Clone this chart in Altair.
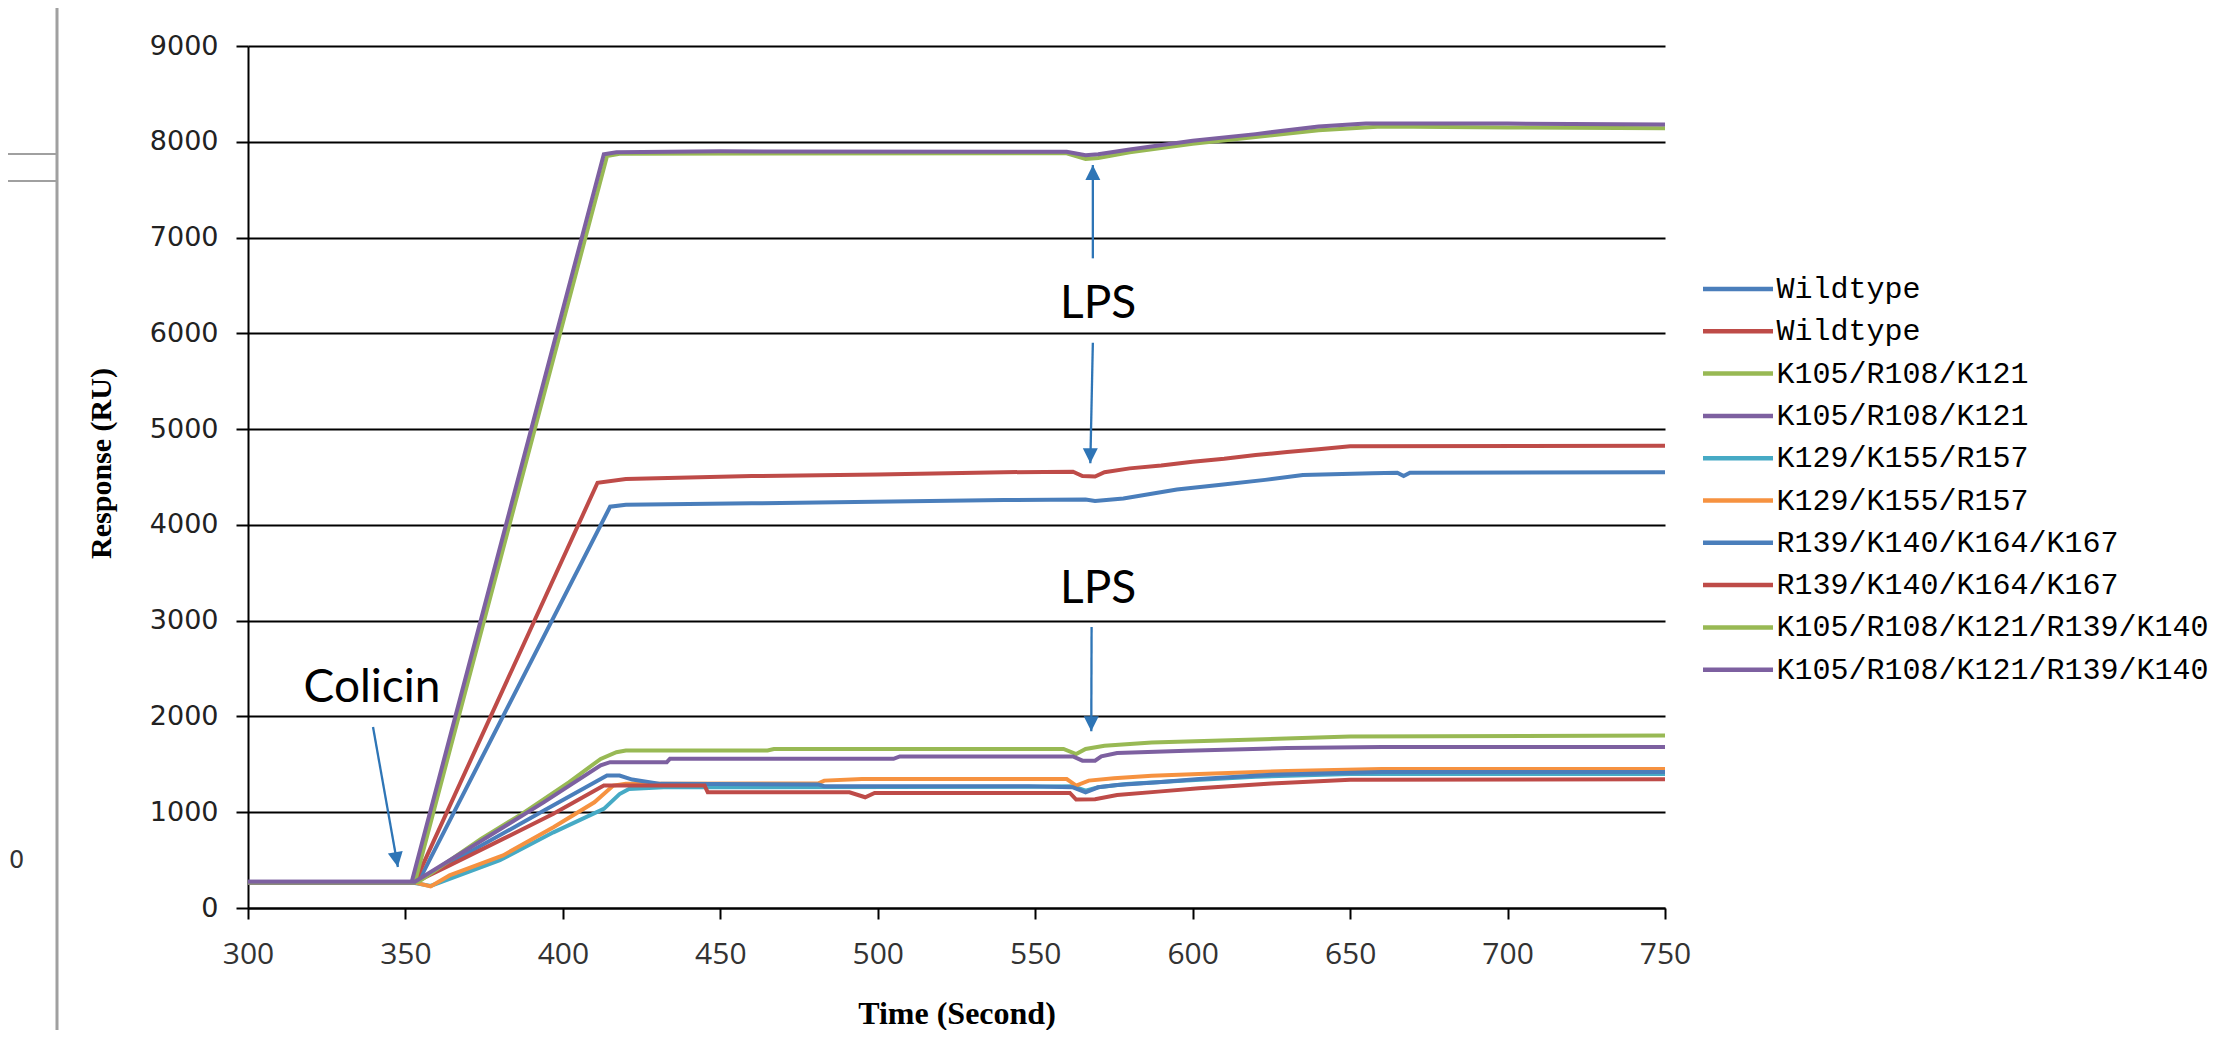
import altair as alt
import pandas as pd

# ---------------- data ----------------
SERIES = [
    "Wildtype|1", "Wildtype|2",
    "K105/R108/K121|1", "K105/R108/K121|2",
    "K129/K155/R157|1", "K129/K155/R157|2",
    "R139/K140/K164/K167|1", "R139/K140/K164/K167|2",
    "K105/R108/K121/R139/K140|1", "K105/R108/K121/R139/K140|2",
]
COLORS = ["#4A7EBB", "#BE4B48", "#98B954", "#7D60A0", "#46AAC5",
          "#F69240", "#4A7EBB", "#BE4B48", "#98B954", "#7D60A0"]

T_WT_A = [300, 354, 415, 420, 460, 540, 566, 569, 578, 595, 609, 623, 635, 657, 665, 667, 669, 750]
V_WT_A = [265, 265, 4190, 4210, 4225, 4260, 4265, 4250, 4275, 4370, 4420, 4470, 4520, 4540, 4545, 4510, 4545, 4550]

T_WT_B = [300, 353, 411, 420, 460, 500, 540, 562, 565, 569, 572, 580, 590, 600, 610, 620, 630, 640, 650, 750]
V_WT_B = [270, 270, 4440, 4480, 4510, 4525, 4550, 4555, 4510, 4505, 4550, 4590, 4620, 4660, 4690, 4730, 4760, 4790, 4820, 4825]

T_K3_A = [300, 353, 414, 418, 560, 566, 570, 580, 600, 620, 640, 660, 700, 750]
V_K3_A = [270, 270, 7850, 7875, 7880, 7820, 7830, 7890, 7980, 8050, 8120, 8160, 8150, 8140]

T_K3_B = [300, 352, 413, 417, 450, 560, 566, 570, 580, 600, 620, 640, 655, 700, 750]
V_K3_B = [275, 275, 7870, 7890, 7900, 7895, 7860, 7870, 7920, 8010, 8080, 8160, 8190, 8190, 8180]

T_K129_A = [300, 353, 358, 380, 397, 413, 418, 421, 432, 548, 562, 566, 570, 579, 598, 620, 650, 750]
V_K129_A = [260, 260, 230, 500, 790, 1035, 1190, 1243, 1260, 1265, 1270, 1226, 1260, 1295, 1330, 1370, 1400, 1400]

T_K129_B = [300, 353, 358, 364, 381, 397, 410, 416, 420, 430, 481, 483, 495, 560, 563, 567, 575, 587, 602, 630, 660, 750]
V_K129_B = [265, 265, 225, 340, 549, 844, 1104, 1278, 1296, 1296, 1300, 1330, 1347, 1347, 1278, 1330, 1354, 1382, 1399, 1430, 1450, 1450]

T_R139_A = [300, 353, 394, 414, 418, 422, 431, 481, 483, 548, 562, 566, 570, 576, 589, 602, 625, 660, 750]
V_R139_A = [265, 265, 1017, 1383, 1383, 1341, 1296, 1290, 1271, 1271, 1260, 1208, 1260, 1285, 1312, 1347, 1390, 1420, 1420]

T_R139_B = [300, 353, 364, 381, 397, 413, 445, 446, 491, 496, 499, 561, 563, 569, 576, 589, 602, 625, 650, 750]
V_R139_B = [270, 270, 444, 722, 983, 1278, 1278, 1208, 1208, 1156, 1201, 1201, 1132, 1135, 1180, 1215, 1250, 1300, 1340, 1345]

T_K5_A = [300, 354, 374, 387, 402, 412, 417, 420, 465, 467, 559, 563, 566, 572, 587, 620, 650, 750]
V_K5_A = [270, 270, 721, 983, 1314, 1557, 1627, 1645, 1645, 1660, 1660, 1608, 1660, 1694, 1729, 1760, 1790, 1800]

T_K5_B = [300, 353, 394, 412, 415, 433, 434, 505, 507, 562, 565, 569, 571, 576, 598, 630, 660, 750]
V_K5_B = [275, 275, 1105, 1490, 1523, 1523, 1557, 1557, 1583, 1583, 1538, 1538, 1583, 1618, 1642, 1670, 1680, 1680]

T_ALL = [T_WT_A, T_WT_B, T_K3_A, T_K3_B, T_K129_A, T_K129_B, T_R139_A, T_R139_B, T_K5_A, T_K5_B]
V_ALL = [V_WT_A, V_WT_B, V_K3_A, V_K3_B, V_K129_A, V_K129_B, V_R139_A, V_R139_B, V_K5_A, V_K5_B]

X_TICKS = [300, 350, 400, 450, 500, 550, 600, 650, 700, 750]
Y_TICKS = [0, 1000, 2000, 3000, 4000, 5000, 6000, 7000, 8000, 9000]

# annotations (data coordinates)
ANN_TEXT = ["Colicin", "LPS", "LPS"]
ANN_T = [339.4, 570.0, 570.0]
ANN_V = [2150, 6157, 3180]

ARROW_T1 = [339.7, 568.3, 568.3, 567.9]
ARROW_V1 = [1890, 6783, 5902, 2935]
ARROW_T2 = [347.6, 568.3, 567.5, 567.8]
ARROW_V2 = [428, 7757, 4643, 1845]
ARROW_ANGLE = [350, 180, 0, 0]

# ---------------- build tables ----------------
rows = []
for key, ts, vs in zip(SERIES, T_ALL, V_ALL):
    for t, v in zip(ts, vs):
        rows.append({"series": key, "t": t, "v": v})
df = pd.DataFrame(rows)

ann = pd.DataFrame({"label": ANN_TEXT, "t": ANN_T, "v": ANN_V})
arrows = pd.DataFrame({"t": ARROW_T1, "v": ARROW_V1, "t2": ARROW_T2, "v2": ARROW_V2})
heads = pd.DataFrame({"t": ARROW_T2, "v": ARROW_V2, "ang": ARROW_ANGLE})

W, H = 1417, 862
ARROW_COLOR = "#2E75B6"

X = alt.X(
    "t:Q",
    scale=alt.Scale(domain=[300, 750], nice=False, zero=False),
    title="Time (Second)",
    axis=alt.Axis(
        values=X_TICKS, grid=False, format="d",
        labelFont="Open Sans", labelFontSize=30, labelColor="#333333",
        labelPadding=20, labelFlush=False, labelOverlap=False,
        tickSize=11, tickWidth=2, tickColor="#000000",
        domainColor="#000000", domainWidth=2,
        titleFont="Liberation Serif", titleFontWeight="bold", titleFontSize=32,
        titleColor="#000000", titleX=W / 2, titleY=90,
    ),
)
Y = alt.Y(
    "v:Q",
    scale=alt.Scale(domain=[0, 9000], nice=False, zero=False),
    title="Response (RU)",
    axis=alt.Axis(
        values=Y_TICKS, grid=True, gridColor="#000000", gridWidth=1.8, format="d",
        labelFont="DejaVu Sans", labelFontSize=27, labelColor="#222222",
        labelPadding=18, labelOverlap=False,
        tickSize=12, tickWidth=2, tickColor="#000000",
        domainColor="#000000", domainWidth=2,
        titleFont="Liberation Serif", titleFontWeight="bold", titleFontSize=30,
        titleColor="#000000", titleX=-132, titleY=417,
    ),
)

lines = alt.Chart(df).mark_line(strokeWidth=4).encode(
    x=X,
    y=Y,
    color=alt.Color(
        "series:N",
        scale=alt.Scale(domain=SERIES, range=COLORS),
        legend=alt.Legend(
            title=None, orient="none", legendX=1452.5, legendY=227,
            symbolType="stroke", symbolSize=4900, symbolStrokeWidth=4.5,
            symbolOffset=0, labelOffset=1, padding=0, rowPadding=10.3,
            clipHeight=32,
            labelFont="Liberation Mono", labelFontSize=30, labelColor="#000000",
            labelLimit=1000, labelExpr="split(datum.label, '|')[0]",
        ),
    ),
)

shafts = alt.Chart(arrows).mark_rule(color=ARROW_COLOR, strokeWidth=2.3).encode(
    x=X, y=Y, x2="t2:Q", y2="v2:Q"
)

arrowheads = alt.Chart(heads).mark_point(
    shape="M0,0L-0.75,-1.5L0.75,-1.5Z", filled=True, size=400,
    color=ARROW_COLOR, opacity=1, strokeWidth=0,
).encode(x=X, y=Y, angle=alt.Angle("ang:Q", scale=None))

texts = alt.Chart(ann).mark_text(
    font="Lato", fontSize=46, align="center", baseline="alphabetic", color="#000000"
).encode(x=X, y=Y, text="label:N")

# screenshot remnants on the left edge
edge = pd.DataFrame({"k": [0]})
vline = alt.Chart(edge).mark_rule(color="#A0A0A0", strokeWidth=3).encode(
    x=alt.value(-191), y=alt.value(-38), y2=alt.value(984)
)
hline1 = alt.Chart(edge).mark_rule(color="#A0A0A0", strokeWidth=2).encode(
    x=alt.value(-248), x2=alt.value(-192), y=alt.value(108)
)
hline2 = alt.Chart(edge).mark_rule(color="#A0A0A0", strokeWidth=2).encode(
    x=alt.value(-248), x2=alt.value(-192), y=alt.value(135)
)
zero_txt = alt.Chart(edge).mark_text(
    text="0", font="DejaVu Sans", fontSize=24, color="#333333", align="left", baseline="middle"
).encode(x=alt.value(-239), y=alt.value(815))

chart = alt.layer(
    vline, hline1, hline2, zero_txt, lines, shafts, arrowheads, texts
).properties(
    width=W, height=H,
    padding={"left": 240, "top": 38, "right": 560, "bottom": 122},
    autosize=alt.AutoSizeParams(type="none"),
    background="#FFFFFF",
).configure_view(strokeWidth=0)

chart.save("out.html", embed_options={"renderer": "svg", "actions": False})
